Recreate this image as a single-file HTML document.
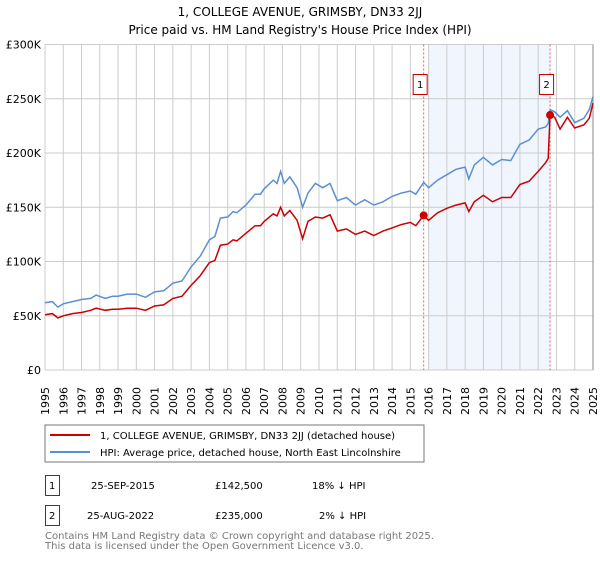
<!DOCTYPE html>
<html><head><meta charset="utf-8"><style>
body{margin:0;background:#fff;font-family:"Liberation Sans","DejaVu Sans",sans-serif}
svg text{font-family:"DejaVu Sans","Liberation Sans",sans-serif}
</style></head><body>
<svg id="c" width="600" height="560" xmlns="http://www.w3.org/2000/svg">
<text x="300" y="16" text-anchor="middle" font-size="12">1, COLLEGE AVENUE, GRIMSBY, DN33 2JJ</text>
<text x="300" y="34" text-anchor="middle" font-size="12">Price paid vs. HM Land Registry's House Price Index (HPI)</text>
<g id="plot"></g>
<rect x="45" y="425" width="379" height="37" fill="#fff" stroke="#777"/>
<line x1="50" y1="435" x2="90" y2="435" stroke="#cc0000" stroke-width="2"/>
<text x="100" y="439" font-size="10">1, COLLEGE AVENUE, GRIMSBY, DN33 2JJ (detached house)</text>
<line x1="50" y1="452" x2="90" y2="452" stroke="#5b8fd4" stroke-width="2"/>
<text x="100" y="456" font-size="10">HPI: Average price, detached house, North East Lincolnshire</text>
<g font-size="10">
<rect x="45.5" y="475.5" width="14" height="20" fill="#fff" stroke="#cc0000"/>
<text x="49" y="489">1</text><text x="91" y="489">25-SEP-2015</text><text x="215" y="489">£142,500</text><text x="312" y="489">18% ↓ HPI</text>
<rect x="45.5" y="505.5" width="14" height="20" fill="#fff" stroke="#cc0000"/>
<text x="49" y="519">2</text><text x="87" y="519">25-AUG-2022</text><text x="215" y="519">£235,000</text><text x="319" y="519">2% ↓ HPI</text>
</g>
<text x="45" y="539" font-size="10" fill="#777">Contains HM Land Registry data © Crown copyright and database right 2025.</text>
<text x="45" y="549" font-size="10" fill="#777">This data is licensed under the Open Government Licence v3.0.</text>
</svg>
<script>
const years=[1995,1995.4,1995.7,1996,1996.5,1997,1997.5,1997.8,1998.3,1998.7,1999,1999.5,2000,2000.5,2001,2001.5,2002,2002.5,2003,2003.5,2004,2004.3,2004.6,2005,2005.3,2005.5,2006,2006.5,2006.8,2007,2007.5,2007.7,2007.9,2008.1,2008.4,2008.8,2009.1,2009.4,2009.8,2010.2,2010.6,2011,2011.5,2012,2012.5,2013,2013.5,2014,2014.5,2015,2015.3,2015.73,2016,2016.5,2017,2017.5,2018,2018.2,2018.5,2019,2019.5,2020,2020.5,2021,2021.5,2022,2022.4,2022.55,2022.65,2022.9,2023.2,2023.6,2024,2024.5,2024.8,2025];
const hpi=[62,63,58,61,63,65,66,69,66,68,68,70,70,67,72,73,80,82,95,105,120,123,140,141,146,145,152,162,162,167,175,172,183,172,178,168,150,163,172,168,172,156,159,152,157,152,155,160,163,165,162,173,168,175,180,185,187,176,189,196,189,194,193,208,212,222,224,227,240,238,233,239,228,232,240,252];
const paid=[51,52,48,50,52,53,55,57,55,56,56,57,57,55,59,60,66,68,78,87,99,101,115,116,120,119,126,133,133,137,144,142,150,142,147,138,121,137,141,140,143,128,130,125,128,124,128,131,134,136,133,142.5,138,145,149,152,154,146,155,161,155,159,159,171,174,183,191,195,235,233,222,233,223,226,232,246];
const yTicks=[0,50000,100000,150000,200000,250000,300000];
const yLabels=["£0","£50K","£100K","£150K","£200K","£250K","£300K"];
const saleYears=[2015.73,2022.65];
const saleValues=[142500,235000];
const saleLabels=["1","2"];
const X0=45,X1=593,Y0=370,Y1=44.5;
const x=y=>X0+(y-1995)*(X1-X0)/30;
const yv=v=>Y0-v*(Y0-Y1)/300000;
const NS="http://www.w3.org/2000/svg";
const g=document.getElementById('plot');
function mk(t,a){const e=document.createElementNS(NS,t);for(const k in a)e.setAttribute(k,a[k]);g.appendChild(e);return e;}
let e=mk('rect',{x:x(2016),y:Y1,width:x(2022.65)-x(2016),height:Y0-Y1,fill:'#eef3fc',opacity:0.8});


for(let yr=1995;yr<=2025;yr++){
 e=mk('line',{x1:x(yr),x2:x(yr),y1:Y1,y2:Y0,stroke:'#ccc'});
 
 
 e=mk('text',{transform:`translate(${x(yr)+4},${Y0+45}) rotate(-90)`,'font-size':11});
 e.textContent=yr;
 
 
}
yTicks.forEach((v,i)=>{
 e=mk('line',{x1:X0,x2:X1,y1:yv(v),y2:yv(v),stroke:'#ccc'});
 
 
 e=mk('text',{x:X0-4,y:yv(v)+4,'text-anchor':'end','font-size':11});
 e.textContent=yLabels[i];
 
 
});
e=mk('line',{x1:X1,x2:X1,y1:Y1,y2:Y0,stroke:'#888'});


saleYears.forEach((s,i)=>{
 e=mk('line',{x1:x(s),x2:x(s),y1:Y1,y2:Y0,stroke:'#e06060','stroke-dasharray':'2,2'});
 
 
 e=mk('rect',{x:x(s)-10.5,y:74.5,width:14,height:20,fill:'#fff',stroke:'#cc0000'});
 
 
 e=mk('text',{x:x(s)-3.5,y:88,'text-anchor':'middle','font-size':10});
 e.textContent=saleLabels[i];
 
 
});
const pts=a=>years.map((yr,i)=>x(yr).toFixed(1)+','+yv(a[i]*1000).toFixed(1)).join(' ');
e=mk('polyline',{points:pts(hpi),fill:'none',stroke:'#5b8fd4','stroke-width':1.5});


e=mk('polyline',{points:pts(paid),fill:'none',stroke:'#cc0000','stroke-width':1.5});


saleYears.forEach((s,i)=>{
 e=mk('circle',{cx:x(s),cy:yv(saleValues[i]),r:4,fill:'#cc0000'});
 
 
});
</script>
</body></html>
